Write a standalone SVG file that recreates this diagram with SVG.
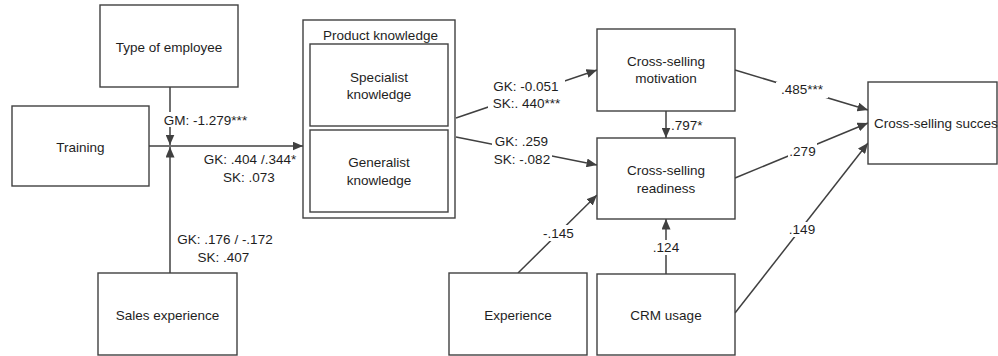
<svg xmlns="http://www.w3.org/2000/svg" width="998" height="356" viewBox="0 0 998 356">
  <style>
    .box { fill: #ffffff; stroke: #404040; stroke-width: 1.4; }
    .edge { fill: none; stroke: #404040; stroke-width: 1.5; marker-end: url(#arrow); }
    .plain { fill: none; stroke: #404040; stroke-width: 1.5; }
    .mask { fill: #ffffff; stroke: none; }
    text { font-family: "Liberation Sans", Arial, sans-serif; font-size: 13.5px; fill: #1e1e1e; }
    .c { text-anchor: middle; }
  </style>
  <defs>
    <marker id="arrow" markerUnits="userSpaceOnUse" markerWidth="11" markerHeight="9" refX="10.5" refY="4.5" orient="auto">
      <path d="M0,0 L10.5,4.5 L0,9 z" fill="#404040"/>
    </marker>
  </defs>

  <!-- connectors -->
  <g id="connectors">
    <path class="edge" d="M170,87 L170,145"/>
    <path class="edge" d="M170,273 L170,147"/>
    <path class="edge" d="M149,146 L303,146"/>
    <path class="edge" d="M456,118 L597,70"/>
    <path class="edge" d="M456,137 L597,165"/>
    <path class="edge" d="M666,111 L666,138"/>
    <path class="edge" d="M666,274 L666,219"/>
    <path class="edge" d="M518,273 L597,195"/>
    <path class="edge" d="M735,70 L868,110"/>
    <path class="edge" d="M735,178 L868,123"/>
    <path class="edge" d="M735,313 L868,143"/>
  </g>

  <!-- path coefficients -->
  <g id="labels">
    <rect class="mask" x="158" y="112" width="96" height="15"/>
    <text class="c" x="205.5" y="125">GM: -1.279***</text>
    <text class="c" x="250" y="164">GK: .404 /.344*</text>
    <text class="c" x="249" y="182">SK: .073</text>
    <text class="c" x="225" y="244">GK: .176 / -.172</text>
    <text class="c" x="223.5" y="262">SK: .407</text>

    <rect class="mask" x="488" y="79" width="77" height="33"/>
    <text class="c" x="526" y="91">GK: -0.051</text>
    <text class="c" x="526.5" y="108">SK:. 440***</text>

    <rect class="mask" x="492" y="135" width="60" height="32"/>
    <text class="c" x="521.5" y="146">GK: .259</text>
    <text class="c" x="522" y="164">SK: -.082</text>

    <text x="671" y="130">.797*</text>

    <rect class="mask" x="776" y="82" width="52" height="16"/>
    <text class="c" x="802" y="94">.485***</text>

    <rect class="mask" x="788" y="143" width="29" height="16"/>
    <text class="c" x="802.5" y="156">.279</text>

    <rect class="mask" x="788" y="222" width="28" height="15"/>
    <text class="c" x="802" y="234">.149</text>

    <rect class="mask" x="652" y="240" width="28" height="15"/>
    <text class="c" x="666" y="252">.124</text>

    <rect class="mask" x="542" y="225" width="34" height="16"/>
    <text class="c" x="558.5" y="238">-.145</text>
  </g>

  <!-- nodes -->
  <g id="type-of-employee">
    <rect class="box" x="100" y="5" width="138" height="82"/>
    <text class="c" x="169" y="52">Type of employee</text>
  </g>
  <g id="training">
    <rect class="box" x="12" y="106" width="137" height="80"/>
    <text class="c" x="80.5" y="152">Training</text>
  </g>
  <g id="sales-experience">
    <rect class="box" x="98" y="273" width="139" height="82"/>
    <text class="c" x="167.5" y="320">Sales experience</text>
  </g>
  <g id="product-knowledge">
    <rect class="box" x="303" y="20" width="152" height="198"/>
    <text class="c" x="380.5" y="40">Product knowledge</text>
    <g id="specialist-knowledge">
      <rect class="box" x="310" y="44" width="138" height="82"/>
      <text class="c" x="379" y="82">Specialist</text>
      <text class="c" x="379" y="99">knowledge</text>
    </g>
    <g id="generalist-knowledge">
      <rect class="box" x="310" y="130" width="138" height="82"/>
      <text class="c" x="379" y="167">Generalist</text>
      <text class="c" x="379" y="185">knowledge</text>
    </g>
  </g>
  <g id="cross-selling-motivation">
    <rect class="box" x="597" y="29" width="138" height="82"/>
    <text class="c" x="666" y="66">Cross-selling</text>
    <text class="c" x="666" y="83">motivation</text>
  </g>
  <g id="cross-selling-readiness">
    <rect class="box" x="597" y="138" width="138" height="81"/>
    <text class="c" x="666" y="175">Cross-selling</text>
    <text class="c" x="666" y="193">readiness</text>
  </g>
  <g id="experience">
    <rect class="box" x="449" y="273" width="138" height="82"/>
    <text class="c" x="518" y="320">Experience</text>
  </g>
  <g id="crm-usage">
    <rect class="box" x="597" y="274" width="138" height="81"/>
    <text class="c" x="666" y="320">CRM usage</text>
  </g>
  <g id="cross-selling-success">
    <rect class="box" x="868" y="82" width="129" height="82"/>
    <text x="874" y="128">Cross-selling succes</text>
  </g>
</svg>
